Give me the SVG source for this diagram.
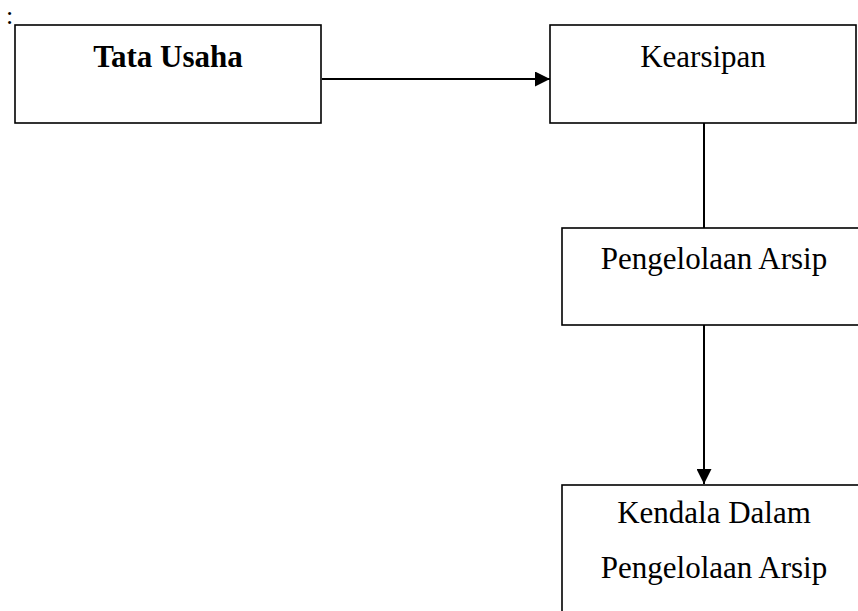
<svg xmlns="http://www.w3.org/2000/svg" width="858" height="611" viewBox="0 0 858 611">
<style>
.box{fill:#fff;stroke:#000;stroke-width:1.6}
.t{font-family:"Liberation Serif","Times New Roman",serif;font-size:31px;fill:#000;text-anchor:middle}
.b{font-weight:bold}
.c{stroke:#000;stroke-width:2;fill:none}
</style>
<defs>
<marker id="ah" viewBox="0 0 10 10" refX="10" refY="5" markerWidth="15" markerHeight="15" markerUnits="userSpaceOnUse" orient="auto">
<path d="M0,0 L10,5 L0,10 Z" fill="#000"/>
</marker>
</defs>
<rect width="858" height="611" fill="#fff"/>
<text x="6" y="24" style="font-family:'Liberation Serif',serif;font-size:26px">:</text>
<g id="connectors">
<line class="c" x1="322" y1="79" x2="550" y2="79" marker-end="url(#ah)"/>
<line class="c" x1="704" y1="123" x2="704" y2="228"/>
<line class="c" x1="704" y1="325" x2="704" y2="484" marker-end="url(#ah)"/>
</g>
<g id="tata-usaha">
<rect class="box" x="15" y="25" width="306" height="98"/>
<text class="t b" x="168" y="67">Tata Usaha</text>
</g>
<g id="kearsipan">
<rect class="box" x="550" y="25" width="306" height="98"/>
<text class="t" x="703" y="67">Kearsipan</text>
</g>
<g id="pengelolaan-arsip">
<rect class="box" x="562" y="228" width="306" height="97"/>
<text class="t" x="714" y="269">Pengelolaan Arsip</text>
</g>
<g id="kendala">
<rect class="box" x="562" y="485" width="306" height="140"/>
<text class="t" x="714" y="523">Kendala Dalam</text>
<text class="t" x="714" y="578">Pengelolaan Arsip</text>
</g>
</svg>
